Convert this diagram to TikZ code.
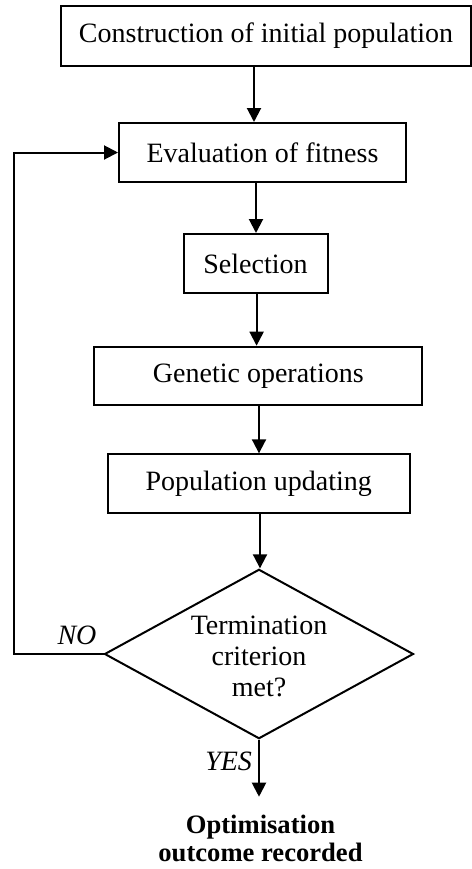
\documentclass[tikz,border=0pt]{standalone}
\usepackage{fontspec}
\setmainfont{Liberation Serif}
\usetikzlibrary{arrows.meta,shapes.geometric}

\newcommand{\flowfont}{\fontsize{14}{15.5}\selectfont}
\tikzset{
  stepbox/.style={draw, line width=1pt, inner sep=0pt, font=\flowfont},
  arr/.style={line width=1pt, -{Triangle[length=7pt,width=7pt]}},
  lbl/.style={font=\flowfont\itshape, inner sep=0pt, anchor=base},
}

\begin{document}
\begin{tikzpicture}[x=1pt,y=-1pt]
  \useasboundingbox (0,0) rectangle (236,434.5);

  % process boxes
  \node[stepbox, minimum width=205pt,   minimum height=29.75pt] (init) at (133,17.9)    {Construction of initial population};
  \node[stepbox, minimum width=143.5pt, minimum height=29.5pt]  (eval) at (131.25,76.25) {Evaluation of fitness};
  \node[stepbox, minimum width=72pt,    minimum height=29.5pt]  (sel)  at (127.75,131.75){Selection};
  \node[stepbox, minimum width=164pt,   minimum height=29.3pt]  (gen)  at (129.15,188)   {Genetic operations};
  \node[stepbox, minimum width=151.2pt, minimum height=29.2pt]  (pop)  at (129.4,241.75) {Population updating};

  % decision
  \node[draw, line width=1pt, diamond, inner sep=0pt, aspect=1.82,
        minimum width=154.5pt, minimum height=84.7pt] (dia) at (129.5,327) {};
  \node[font=\flowfont, align=center, inner sep=0pt] (diatext) at (129.5,328.3)
        {Termination\\criterion\\met?};

  % final outcome
  \node[font=\fontsize{13.3}{14.3}\selectfont\bfseries, align=center, inner sep=0pt] (out)
        at (130.25,419.2) {Optimisation\\outcome recorded};

  % branch labels
  \node[lbl] (no)  at (38.5,322)  {NO};
  \node[lbl] (yes) at (114.3,385) {YES};

  % vertical flow
  \coordinate (c1) at (127,0);
  \coordinate (c2) at (128,0);
  \coordinate (c3) at (128.3,0);
  \coordinate (c4) at (129.5,0);
  \coordinate (c5) at (130,0);
  \draw[arr] (init.south -| c1) -- (eval.north -| c1);
  \draw[arr] (eval.south -| c2) -- (sel.north -| c2);
  \draw[arr] (sel.south -| c3)  -- (gen.north -| c3);
  \draw[arr] (gen.south -| c4)  -- (pop.north -| c4);
  \draw[arr] (pop.south -| c5)  -- (dia.north -| c5);
  \draw[arr, shorten >=8.8pt] (dia.south) -- (dia.south |- out.north);

  % loop back when not terminated
  \coordinate (back) at (7,0);
  \draw[arr] (dia.west) -- (dia.west -| back) |- (eval.west);
\end{tikzpicture}
\end{document}
